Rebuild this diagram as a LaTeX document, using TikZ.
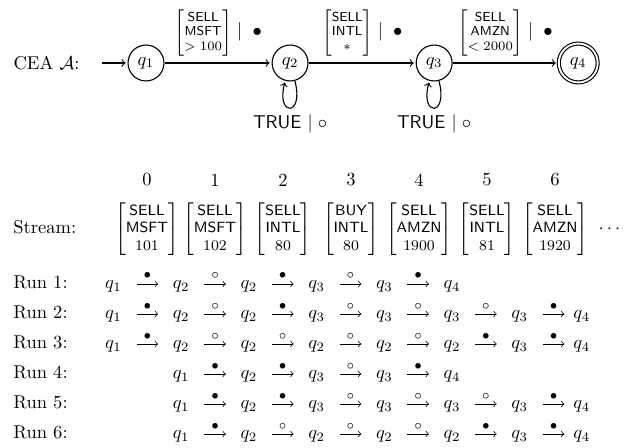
\documentclass[tikz,border=0pt]{standalone}
\usepackage{amsmath}
\usepackage{tikz}
\usetikzlibrary{automata,positioning}

\newcommand{\guardlbl}[4]{{\scriptsize$\begin{bmatrix}\textsf{#1}\\\textsf{#2}\\{#3}\end{bmatrix}$}$\;\mid\;#4$}
\newcommand{\stockev}[3]{$\begin{bmatrix}\textsf{#1}\\\textsf{#2}\\{#3}\end{bmatrix}$}

\begin{document}
\begin{tikzpicture}[x=0.54pt,y=-0.54pt,auto,
    lbl/.style={inner sep=0pt,anchor=west},
    rowlbl/.style={lbl,text height=5pt,text depth=0pt},
    run/.style={inner xsep=7.75pt,inner ysep=0pt,text height=5pt,text depth=0pt},
    runend/.style={run,inner xsep=4.7pt},
    mk/.style={inner sep=2.5pt,font=\scriptsize}]
  \useasboundingbox (0,0) rectangle (641,448);

  % the automaton
  \begin{scope}[shorten >=1pt,node distance=77.8pt,on grid,semithick,
      every state/.style={minimum size=19.4pt,inner sep=0pt},
      every loop/.style={min distance=20pt,looseness=10}]
    \node[state] (q_1) at (146,63) {$q_1$};
    \node[state] (q_2) [right=of q_1] {$q_2$};
    \node[state] (q_3) [right=of q_2] {$q_3$};
    \node[state,accepting,double distance=1pt,minimum size=21pt] (q_4) [right=of q_3] {$q_4$};
    \node[lbl] (cea) at (13,63) {CEA $\mathcal{A}$:};
    \path[->]
      (cea) edge [shorten <=12pt] (q_1)
      (q_1) edge node {\guardlbl{SELL}{MSFT}{> 100}{\bullet}} (q_2)
      (q_2) edge node {\guardlbl{SELL}{INTL}{*}{\bullet}} (q_3)
      (q_3) edge node {\guardlbl{SELL}{AMZN}{< 2000}{\bullet}} (q_4)
      (q_2) edge [loop below] node {\textsf{TRUE} $\mid\circ$} ()
      (q_3) edge [loop below] node {\textsf{TRUE} $\mid\circ$} ();
  \end{scope}

  % the stream
  \node[rowlbl] (stream) at (13,229) {Stream:};
  \begin{scope}[node distance=36.72pt,on grid]
    \node (i0) at (147,180) {0};
    \node (i1) [right=of i0] {1};
    \node (i2) [right=of i1] {2};
    \node (i3) [right=of i2] {3};
    \node (i4) [right=of i3] {4};
    \node (i5) [right=of i4] {5};
    \node (i6) [right=of i5] {6};
    \node[font=\footnotesize] (e0) [below=26.5pt of i0] {\stockev{SELL}{MSFT}{101}};
    \node[font=\footnotesize] (e1) [below=26.5pt of i1] {\stockev{SELL}{MSFT}{102}};
    \node[font=\footnotesize] (e2) [below=26.5pt of i2] {\stockev{SELL}{INTL}{80}};
    \node[font=\footnotesize] (e3) [below=26.5pt of i3] {\stockev{BUY}{INTL}{80}};
    \node[font=\footnotesize] (e4) [below=26.5pt of i4] {\stockev{SELL}{AMZN}{1900}};
    \node[font=\footnotesize] (e5) [below=26.5pt of i5] {\stockev{SELL}{INTL}{81}};
    \node[font=\footnotesize] (e6) [below=26.5pt of i6] {\stockev{SELL}{AMZN}{1920}};
    \node[text height=5pt,text depth=0pt] (more) at (611,229) {$\cdots$};
  \end{scope}

  % the runs
  \node[rowlbl] (run1) at (13,284) {Run 1:};
  \node[rowlbl] (run2) at (13,314) {Run 2:};
  \node[rowlbl] (run3) at (13,344) {Run 3:};
  \node[rowlbl] (run4) at (13,374) {Run 4:};
  \node[rowlbl] (run5) at (13,404) {Run 5:};
  \node[rowlbl] (run6) at (13,434) {Run 6:};
  \begin{scope}[node distance=36.56pt,on grid,every node/.style={run}]
    \node (r1a) at (113.5,284) {$q_1$};
    \node (r1b) [right=of r1a] {$q_2$};
    \node (r1c) [right=of r1b] {$q_2$};
    \node (r1d) [right=of r1c] {$q_3$};
    \node (r1e) [right=of r1d] {$q_3$};
    \node (r1f) [right=of r1e] {$q_4$};

    \node (r2a) at (113.5,314) {$q_1$};
    \node (r2b) [right=of r2a] {$q_2$};
    \node (r2c) [right=of r2b] {$q_2$};
    \node (r2d) [right=of r2c] {$q_3$};
    \node (r2e) [right=of r2d] {$q_3$};
    \node (r2f) [right=of r2e] {$q_3$};
    \node (r2g) [right=of r2f] {$q_3$};
    \node[runend] (r2h) [right=33.5pt of r2g] {$q_4$};

    \node (r3a) at (113.5,344) {$q_1$};
    \node (r3b) [right=of r3a] {$q_2$};
    \node (r3c) [right=of r3b] {$q_2$};
    \node (r3d) [right=of r3c] {$q_2$};
    \node (r3e) [right=of r3d] {$q_2$};
    \node (r3f) [right=of r3e] {$q_2$};
    \node (r3g) [right=of r3f] {$q_3$};
    \node[runend] (r3h) [right=33.5pt of r3g] {$q_4$};

    \node (r4a) at (181.2,374) {$q_1$};
    \node (r4b) [right=of r4a] {$q_2$};
    \node (r4c) [right=of r4b] {$q_3$};
    \node (r4d) [right=of r4c] {$q_3$};
    \node (r4e) [right=of r4d] {$q_4$};

    \node (r5a) at (181.2,404) {$q_1$};
    \node (r5b) [right=of r5a] {$q_2$};
    \node (r5c) [right=of r5b] {$q_3$};
    \node (r5d) [right=of r5c] {$q_3$};
    \node (r5e) [right=of r5d] {$q_3$};
    \node (r5f) [right=of r5e] {$q_3$};
    \node[runend] (r5g) [right=33.5pt of r5f] {$q_4$};

    \node (r6a) at (181.2,434) {$q_1$};
    \node (r6b) [right=of r6a] {$q_2$};
    \node (r6c) [right=of r6b] {$q_2$};
    \node (r6d) [right=of r6c] {$q_2$};
    \node (r6e) [right=of r6d] {$q_2$};
    \node (r6f) [right=of r6e] {$q_3$};
    \node[runend] (r6g) [right=33.5pt of r6f] {$q_4$};
  \end{scope}
  \path[->,every node/.style={mk}]
    (r1a) edge node {$\bullet$} (r1b)
    (r1b) edge node {$\circ$} (r1c)
    (r1c) edge node {$\bullet$} (r1d)
    (r1d) edge node {$\circ$} (r1e)
    (r1e) edge node {$\bullet$} (r1f)

    (r2a) edge node {$\bullet$} (r2b)
    (r2b) edge node {$\circ$} (r2c)
    (r2c) edge node {$\bullet$} (r2d)
    (r2d) edge node {$\circ$} (r2e)
    (r2e) edge node {$\circ$} (r2f)
    (r2f) edge node {$\circ$} (r2g)
    (r2g) edge node {$\bullet$} (r2h)

    (r3a) edge node {$\bullet$} (r3b)
    (r3b) edge node {$\circ$} (r3c)
    (r3c) edge node {$\circ$} (r3d)
    (r3d) edge node {$\circ$} (r3e)
    (r3e) edge node {$\circ$} (r3f)
    (r3f) edge node {$\bullet$} (r3g)
    (r3g) edge node {$\bullet$} (r3h)

    (r4a) edge node {$\bullet$} (r4b)
    (r4b) edge node {$\bullet$} (r4c)
    (r4c) edge node {$\circ$} (r4d)
    (r4d) edge node {$\bullet$} (r4e)

    (r5a) edge node {$\bullet$} (r5b)
    (r5b) edge node {$\bullet$} (r5c)
    (r5c) edge node {$\circ$} (r5d)
    (r5d) edge node {$\circ$} (r5e)
    (r5e) edge node {$\circ$} (r5f)
    (r5f) edge node {$\bullet$} (r5g)

    (r6a) edge node {$\bullet$} (r6b)
    (r6b) edge node {$\circ$} (r6c)
    (r6c) edge node {$\circ$} (r6d)
    (r6d) edge node {$\circ$} (r6e)
    (r6e) edge node {$\bullet$} (r6f)
    (r6f) edge node {$\bullet$} (r6g);
\end{tikzpicture}
\end{document}
